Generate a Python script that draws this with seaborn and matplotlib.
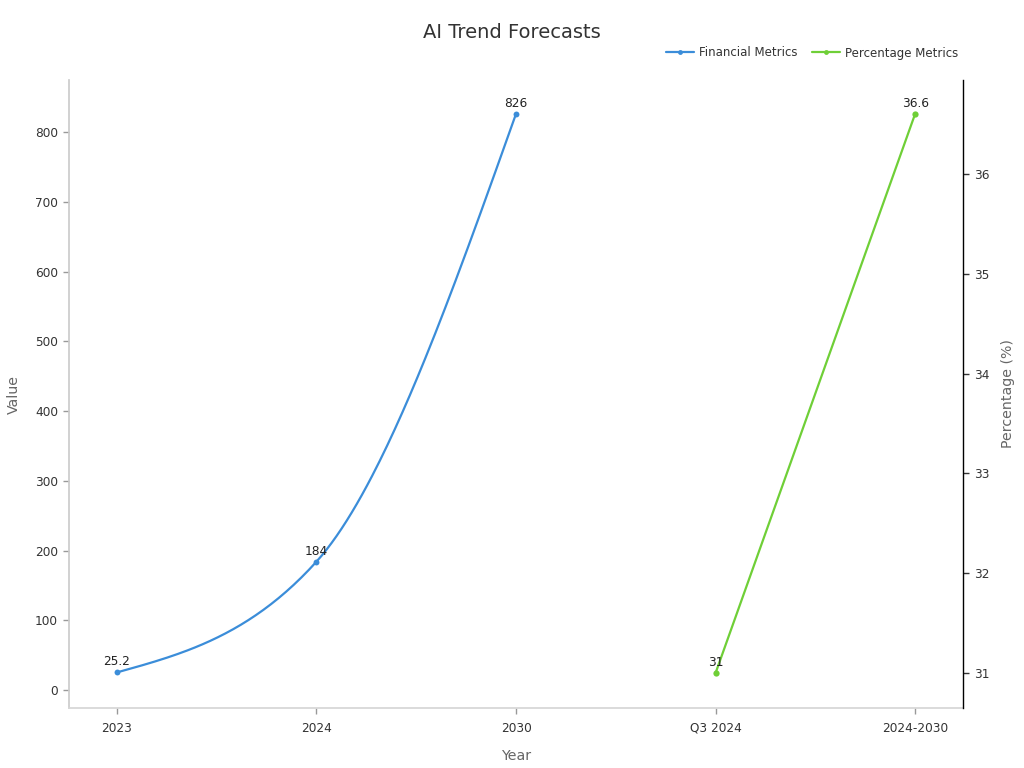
import numpy as np
import pandas as pd
import matplotlib
matplotlib.use("Agg")
import matplotlib.pyplot as plt
import seaborn as sns
from matplotlib.lines import Line2D

# ---- data ----
categories = ["2023", "2024", "2030", "Q3 2024", "2024-2030"]
fin_labels = ["2023", "2024", "2030"]
fin_values = [25.2, 184, 826]
pct_labels = ["Q3 2024", "2024-2030"]
pct_values = [31, 36.6]

BLUE = "#3b8dd9"
GREEN = "#6fcf37"

sns.set_theme(style="white")
plt.rcParams["font.family"] = ["DejaVu Sans"]

fig = plt.figure(figsize=(10.24, 7.68), dpi=100)
ax = fig.add_axes([69 / 1024, 1 - 708 / 768, (963 - 69) / 1024, (708 - 80) / 768])
ax2 = ax.twinx()

pos = {c: i for i, c in enumerate(categories)}
fx = np.array([pos[c] for c in fin_labels], dtype=float)
fy = np.array(fin_values, dtype=float)
px = np.array([pos[c] for c in pct_labels], dtype=float)
py = np.array(pct_values, dtype=float)


def monotone_curve(x, y, per=80):
    """Monotone cubic (d3 curveMonotoneX style) through the points."""
    n = len(x)
    h = np.diff(x)
    s = np.diff(y) / h
    m = np.zeros(n)
    for i in range(1, n - 1):
        p = (s[i - 1] * h[i] + s[i] * h[i - 1]) / (h[i - 1] + h[i])
        m[i] = (np.sign(s[i - 1]) + np.sign(s[i])) * min(abs(s[i - 1]), abs(s[i]), 0.5 * abs(p))
    m[0] = (3 * s[0] - m[1]) / 2 if n > 2 else s[0]
    m[-1] = (3 * s[-1] - m[-2]) / 2 if n > 2 else s[-1]
    xs, ys = [], []
    for i in range(n - 1):
        t = np.linspace(0, 1, per)
        h00 = 2 * t**3 - 3 * t**2 + 1
        h10 = t**3 - 2 * t**2 + t
        h01 = -2 * t**3 + 3 * t**2
        h11 = t**3 - t**2
        xs.append(x[i] + t * h[i])
        ys.append(h00 * y[i] + h10 * h[i] * m[i] + h01 * y[i + 1] + h11 * h[i] * m[i + 1])
    return np.concatenate(xs), np.concatenate(ys)


cx, cy = monotone_curve(fx, fy)
cdf = pd.DataFrame({"x": cx, "y": cy})
ax.plot(cdf["x"], cdf["y"], color=BLUE, lw=1.6, zorder=3)
sns.scatterplot(x=fx, y=fy, ax=ax, color=BLUE, s=18, linewidth=0, zorder=4)

sns.lineplot(x=px, y=py, ax=ax2, color=GREEN, lw=1.6, marker="o", markersize=4.5,
             markeredgewidth=0, zorder=3)

for x, y in zip(fx, fy):
    ax.annotate(f"{y:g}", (x, y), xytext=(0, 3), textcoords="offset points",
                ha="center", va="bottom", fontsize=8.7, color="#222222")
for x, y in zip(px, py):
    ax2.annotate(f"{y:g}", (x, y), xytext=(0, 3), textcoords="offset points",
                 ha="center", va="bottom", fontsize=8.7, color="#222222")

ax.set_xlim(-0.24, 4.24)
ax.set_ylim(-25.8, 874.6)
ax2.set_ylim(30.65, 36.94)

ax.set_xticks(range(len(categories)))
ax.set_xticklabels(categories)
ax.set_yticks([0, 100, 200, 300, 400, 500, 600, 700, 800])
ax2.set_yticks([31, 32, 33, 34, 35, 36])

for a in (ax, ax2):
    for s in a.spines.values():
        s.set_visible(False)
ax.spines["left"].set_visible(True)
ax.spines["bottom"].set_visible(True)
ax.spines["left"].set_color("#cccccc")
ax.spines["bottom"].set_color("#d6d6d6")
ax2.spines["right"].set_visible(True)
ax2.spines["right"].set_color("#000000")
ax2.spines["right"].set_linewidth(1.0)

ax.tick_params(axis="both", which="both", labelsize=8.7, labelcolor="#333333",
               color="#999999", length=4, width=1, direction="out")
ax.tick_params(axis="x", pad=6)
ax.tick_params(axis="y", left=True, pad=4)
ax.tick_params(axis="x", bottom=True)
ax2.tick_params(axis="y", right=True, labelsize=8.7, labelcolor="#333333",
                color="#333333", length=4, width=1, pad=4)

ax.set_xlabel("Year", fontsize=10.2, color="#666666", labelpad=10)
ax.set_ylabel("Value", fontsize=10.2, color="#666666", labelpad=10)
ax2.set_ylabel("Percentage (%)", fontsize=10.2, color="#666666", labelpad=8)

fig.text(0.5, 1 - 33 / 768, "AI Trend Forecasts", ha="center", va="center",
         fontsize=14, color="#333333")

handles = [
    Line2D([], [], color=BLUE, lw=1.6, marker="o", markersize=3.5, markeredgewidth=0),
    Line2D([], [], color=GREEN, lw=1.6, marker="o", markersize=3.5, markeredgewidth=0),
]
fig.legend(handles, ["Financial Metrics", "Percentage Metrics"], loc="center right",
           bbox_to_anchor=(958 / 1024, 1 - 53 / 768), ncol=2, frameon=False,
           fontsize=8.5, handlelength=2.4, handletextpad=0.4, columnspacing=1.2,
           labelcolor="#333333", borderaxespad=0, borderpad=0)

fig.savefig("out.png", dpi=100)
